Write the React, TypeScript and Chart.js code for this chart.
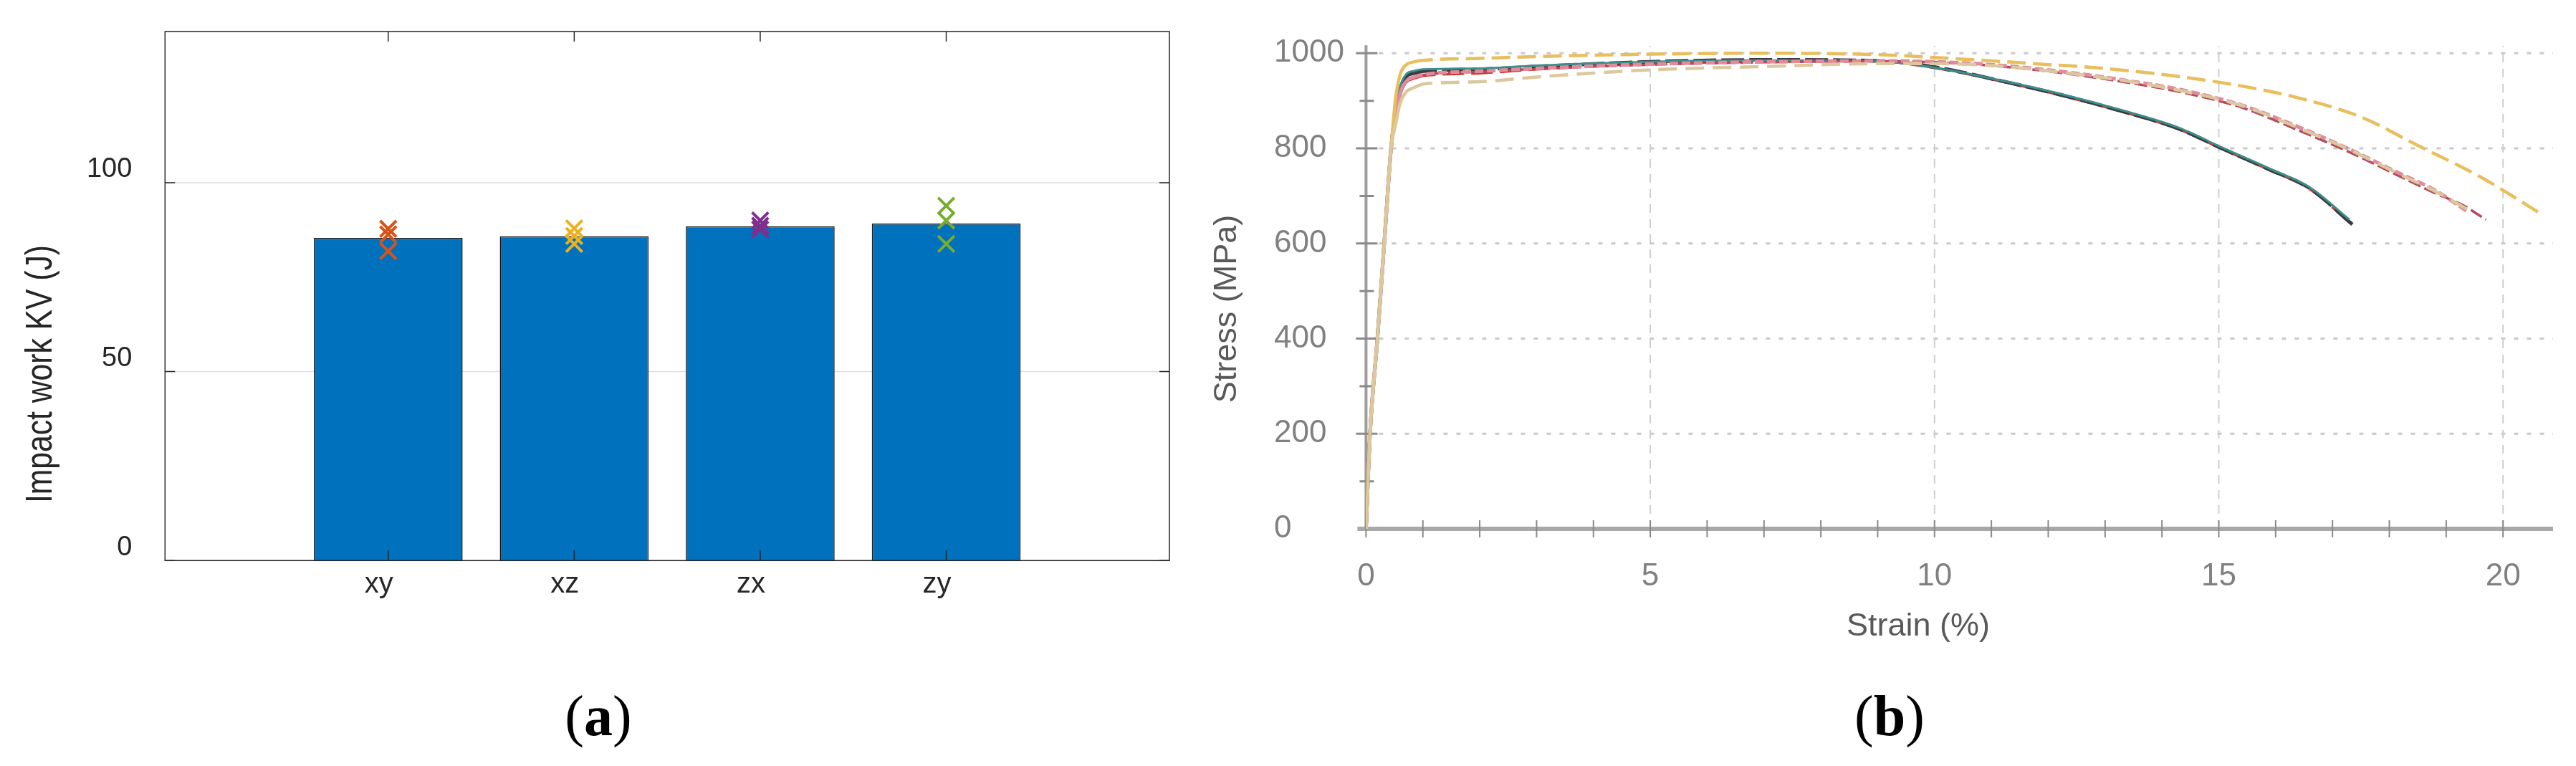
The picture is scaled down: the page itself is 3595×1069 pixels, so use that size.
import React, { useEffect, useRef } from 'react';
import { Chart, registerables } from 'chart.js';

Chart.register(...registerables);

// ---------- Panel (a): Charpy impact work ----------
const categories = ['xy', 'xz', 'zx', 'zy'];
const meanImpact = [85.4, 85.8, 88.4, 89.2];
const xySamples = [87.8, 86.3, 81.9];
const xzSamples = [87.9, 85.9, 83.8];
const zxSamples = [90.0, 88.6, 87.6];
const zySamples = [93.9, 90.0, 83.8];
const sampleColors = ['#D95319', '#EDB120', '#7E2F8E', '#77AC30'];
const impactTicks = [0, 50, 100];

// ---------- Panel (b): stress-strain curves ----------
const strainTicks = [0, 5, 10, 15, 20];
const stressTicks = [0, 200, 400, 600, 800, 1000];

const goldStrain = [0, 0.07, 0.2, 0.32, 0.44, 0.52, 0.6, 0.7, 0.85, 1, 2, 3, 5, 7, 9, 10, 11, 12, 12.8, 13.5, 14.3, 15.4, 16.4, 17.5, 18.5, 19.6, 20.7];
const goldStress = [0, 200, 400, 600, 800, 905, 955, 975, 982, 985, 989, 993, 998, 1000, 997, 991, 984, 976, 970, 962, 951, 931, 906, 866, 806, 740, 660];

const pinkStrain = [0, 0.07, 0.2, 0.32, 0.44, 0.52, 0.6, 0.7, 0.85, 1, 2, 3, 5, 7, 9, 10, 11, 12.2, 13.3, 14.3, 15.4, 16.4, 17.3, 18.1, 18.8, 19.4];
const pinkStress = [0, 200, 400, 600, 800, 870, 915, 940, 950, 955, 962, 968, 977, 982, 984, 982, 976, 962, 944, 924, 891, 845, 798, 752, 712, 665];

const crimsonStrain = [0, 0.07, 0.2, 0.32, 0.44, 0.52, 0.6, 0.7, 0.85, 1, 2, 3, 5, 7, 9, 10, 11, 12.2, 13.3, 14.3, 15.4, 16.4, 17.3, 18.1, 18.8, 19.3, 19.7];
const crimsonStress = [0, 200, 400, 600, 800, 868, 912, 938, 948, 954, 961, 967, 976, 981, 983, 981, 974, 959, 940, 919, 886, 838, 792, 746, 706, 680, 650];

const darkStrain = [0, 0.07, 0.2, 0.32, 0.44, 0.52, 0.6, 0.7, 0.85, 1, 2, 3, 5, 7, 9, 10, 11.2, 12.2, 13.3, 14.3, 15.05, 15.9, 16.6, 17.35];
const darkStress = [0, 200, 400, 600, 800, 880, 925, 950, 958, 962, 966, 972, 982, 986, 984, 971, 941, 913, 878, 841, 800, 755, 716, 640];

const tealStrain = [0, 0.07, 0.2, 0.32, 0.44, 0.52, 0.6, 0.7, 0.85, 1, 2, 3, 5, 7, 9, 10, 11.2, 12.2, 13.3, 14.3, 15.05, 15.9, 16.6, 17.3];
const tealStress = [0, 200, 400, 600, 800, 885, 930, 955, 963, 966, 968, 974, 982, 985, 983, 970, 942, 915, 880, 843, 802, 757, 718, 650];

const redStrain = [0, 0.07, 0.2, 0.32, 0.44, 0.52, 0.6, 0.7, 0.85, 1, 2, 3, 5, 7, 9, 10, 11.2, 12.2, 13.3, 14.3, 15.05, 15.9, 16.6, 17.3];
const redStress = [0, 200, 400, 600, 800, 870, 915, 938, 947, 952, 958, 966, 978, 982, 983, 969, 940, 912, 877, 840, 799, 754, 714, 645];

const tanStrain = [0, 0.07, 0.2, 0.32, 0.44, 0.52, 0.6, 0.7, 0.85, 1, 2, 3, 5, 7, 9, 10, 11, 12.2, 13.3, 14.3, 15.4, 16.4, 17.3, 18.1, 18.8, 19.4];
const tanStress = [0, 200, 400, 600, 800, 850, 895, 918, 928, 935, 940, 950, 965, 972, 978, 978, 974, 960, 943, 922, 890, 843, 797, 750, 710, 670];

const SANS = "'Liberation Sans', Arial, sans-serif";

function pts(xs: number[], ys: number[]) {
  return xs.map((x, i) => ({ x, y: ys[i] }));
}

function curve(label: string, xs: number[], ys: number[], color: string, dash: number[], width: number) {
  return {
    label,
    data: pts(xs, ys),
    borderColor: color,
    backgroundColor: color,
    borderWidth: width,
    pointRadius: 0,
    fill: false,
    tension: 0,
    cubicInterpolationMode: 'monotone' as const,
    segment: {
      borderDash: (ctx: any) => (ctx.p0.parsed.x >= 0.85 ? dash : undefined),
    },
  };
}

export default function App() {
  const refA = useRef<HTMLCanvasElement>(null);
  const refB = useRef<HTMLCanvasElement>(null);

  useEffect(() => {
    const samples = [xySamples, xzSamples, zxSamples, zySamples];

    const axesA = {
      id: 'axesA',
      beforeDatasetsDraw(chart: any) {
        const { ctx, chartArea, scales } = chart;
        const { left, right } = chartArea;
        ctx.save();
        ctx.strokeStyle = '#dedede';
        ctx.lineWidth = 1.5;
        impactTicks.forEach((v) => {
          if (v === 0) return;
          const py = scales.y.getPixelForValue(v);
          ctx.beginPath();
          ctx.moveTo(left, py);
          ctx.lineTo(right, py);
          ctx.stroke();
        });
        ctx.restore();
      },
      afterDatasetsDraw(chart: any) {
        const { ctx, chartArea, scales } = chart;
        const { left, right, top, bottom } = chartArea;
        ctx.save();
        ctx.strokeStyle = '#262626';
        ctx.lineWidth = 1.5;
        ctx.strokeRect(left, top, right - left, bottom - top);
        const tl = 14;
        ctx.beginPath();
        impactTicks.forEach((v) => {
          const py = scales.y.getPixelForValue(v);
          ctx.moveTo(left, py);
          ctx.lineTo(left + tl, py);
          ctx.moveTo(right, py);
          ctx.lineTo(right - tl, py);
        });
        categories.forEach((_, i) => {
          const px = scales.x.getPixelForValue(i + 1);
          ctx.moveTo(px, bottom);
          ctx.lineTo(px, bottom - tl);
          ctx.moveTo(px, top);
          ctx.lineTo(px, top + tl);
        });
        ctx.stroke();
        ctx.restore();
      },
      afterDraw(chart: any) {
        const { ctx } = chart;
        ctx.save();
        ctx.fillStyle = '#262626';
        ctx.font = `52px ${SANS}`;
        ctx.translate(72, 522);
        ctx.rotate(-Math.PI / 2);
        ctx.scale(0.82, 1);
        ctx.textAlign = 'center';
        ctx.textBaseline = 'alphabetic';
        ctx.fillText('Impact work KV (J)', 0, 0);
        ctx.restore();
      },
    };

    const chartA = new Chart(refA.current as HTMLCanvasElement, {
      type: 'bar',
      data: {
        datasets: [
          ...samples.map((arr, i) => ({
            type: 'scatter' as const,
            label: categories[i],
            data: arr.map((v) => ({ x: i + 1, y: v })),
            pointStyle: 'crossRot',
            pointRadius: 16,
            pointBorderWidth: 4,
            borderWidth: 4,
            borderColor: sampleColors[i],
            backgroundColor: sampleColors[i],
            showLine: false,
            order: 1,
          })),
          {
            type: 'bar' as const,
            label: 'mean',
            data: meanImpact.map((v, i) => ({ x: i + 1, y: v })),
            backgroundColor: '#0072BD',
            borderColor: '#1a1a1a',
            borderWidth: 1.5,
            barPercentage: 0.8,
            categoryPercentage: 1,
            order: 2,
          },
        ] as any,
      },
      options: {
        responsive: false,
        animation: false,
        devicePixelRatio: 1,
        layout: { autoPadding: false, padding: { left: 0, top: 44, right: 68, bottom: 0 } },
        plugins: { legend: { display: false }, tooltip: { enabled: false } },
        scales: {
          x: {
            type: 'linear',
            min: -0.2,
            max: 5.2,
            offset: false,
            grid: { display: false, drawTicks: false },
            border: { display: false },
            afterBuildTicks: (axis: any) => {
              axis.ticks = categories.map((_, i) => ({ value: i + 1 }));
            },
            afterFit: (axis: any) => {
              axis.height = 117.7;
              axis.paddingLeft = 0;
              axis.paddingRight = 0;
            },
            ticks: {
              callback: (v: any) => categories[Number(v) - 1] ?? '',
              font: { family: SANS, size: 40 },
              color: '#262626',
              padding: 10,
              labelOffset: -13,
              maxRotation: 0,
              autoSkip: false,
            },
          },
          y: {
            type: 'linear',
            min: 0,
            max: 140,
            grid: { display: false, drawTicks: false },
            border: { display: false },
            afterBuildTicks: (axis: any) => {
              axis.ticks = impactTicks.map((v) => ({ value: v }));
            },
            afterFit: (axis: any) => {
              axis.width = 230.3;
              axis.paddingTop = 0;
              axis.paddingBottom = 0;
            },
            ticks: {
              font: { family: SANS, size: 38 },
              color: '#262626',
              padding: 46,
              labelOffset: -18,
            },
          },
        },
      } as any,
      plugins: [axesA],
    });

    const axesB = {
      id: 'axesB',
      beforeDatasetsDraw(chart: any) {
        const { ctx, chartArea, scales } = chart;
        const { left, right, top, bottom } = chartArea;
        const x = scales.x;
        const y = scales.y;
        ctx.save();
        ctx.strokeStyle = '#c9c9c9';
        ctx.lineWidth = 3;
        ctx.setLineDash([6, 12]);
        stressTicks.forEach((v) => {
          if (v === 0) return;
          const py = y.getPixelForValue(v);
          ctx.beginPath();
          ctx.moveTo(left + 18, py);
          ctx.lineTo(right, py);
          ctx.stroke();
        });
        ctx.strokeStyle = '#cfcfcf';
        ctx.lineWidth = 2;
        ctx.setLineDash([12, 9]);
        strainTicks.forEach((v) => {
          if (v === 0) return;
          const px = x.getPixelForValue(v);
          ctx.beginPath();
          ctx.moveTo(px, bottom);
          ctx.lineTo(px, top);
          ctx.stroke();
        });
        ctx.setLineDash([]);
        ctx.strokeStyle = '#a8a8a8';
        ctx.lineWidth = 6;
        ctx.beginPath();
        ctx.moveTo(left - 12, bottom);
        ctx.lineTo(right, bottom);
        ctx.stroke();
        ctx.strokeStyle = '#9c9c9c';
        ctx.lineWidth = 4;
        ctx.beginPath();
        ctx.moveTo(left, bottom);
        ctx.lineTo(left, top - 1);
        ctx.stroke();
        ctx.strokeStyle = '#8a8a8a';
        ctx.lineWidth = 2;
        ctx.beginPath();
        for (let s = 0; s <= 20; s++) {
          const px = x.getPixelForValue(s);
          ctx.moveTo(px, bottom - 12);
          ctx.lineTo(px, bottom + 12);
        }
        ctx.stroke();
        ctx.lineWidth = 3;
        ctx.beginPath();
        for (let v = 100; v <= 1000; v += 100) {
          const py = y.getPixelForValue(v);
          const major = v % 200 === 0;
          ctx.moveTo(left - (major ? 14 : 9), py);
          ctx.lineTo(left + (major ? 16 : 11), py);
        }
        ctx.stroke();
        ctx.restore();
      },
      afterDraw(chart: any) {
        const { ctx } = chart;
        ctx.save();
        ctx.fillStyle = '#595959';
        ctx.font = `45px ${SANS}`;
        ctx.textAlign = 'center';
        ctx.textBaseline = 'alphabetic';
        ctx.fillText('Strain (%)', 997, 887);
        ctx.translate(45, 431);
        ctx.rotate(-Math.PI / 2);
        ctx.fillText('Stress (MPa)', 0, 0);
        ctx.restore();
      },
    };

    const chartB = new Chart(refB.current as HTMLCanvasElement, {
      type: 'line',
      data: {
        datasets: [
          curve('tan', tanStrain, tanStress, '#DCC89E', [26, 12], 4.5),
          curve('gold', goldStrain, goldStress, '#E9BE5C', [26, 10], 4.5),
          curve('pink', pinkStrain, pinkStress, '#E08A9A', [12, 5], 5),
          curve('crimson', crimsonStrain, crimsonStress, '#B44A5E', [18, 6], 3.5),
          curve('teal', tealStrain, tealStress, '#3C8E8C', [], 3),
          curve('dark', darkStrain, darkStress, '#3a3a40', [32, 7], 5),
          curve('red', redStrain, redStress, '#C8362F', [30, 10], 3.5),
        ] as any,
      },
      options: {
        responsive: false,
        animation: false,
        devicePixelRatio: 1,
        layout: { autoPadding: false, padding: { left: 98, top: 64.3, right: 32, bottom: 0 } },
        plugins: { legend: { display: false }, tooltip: { enabled: false } },
        scales: {
          x: {
            type: 'linear',
            min: 0,
            max: 20.88,
            grid: { display: false, drawTicks: false },
            border: { display: false },
            afterBuildTicks: (axis: any) => {
              axis.ticks = strainTicks.map((v) => ({ value: v }));
            },
            afterFit: (axis: any) => {
              axis.height = 162;
              axis.paddingLeft = 0;
              axis.paddingRight = 0;
            },
            ticks: {
              callback: (v: any) => String(v),
              font: { family: SANS, size: 44 },
              color: '#808080',
              padding: 40,
              maxRotation: 0,
              autoSkip: false,
            },
          },
          y: {
            type: 'linear',
            min: 0,
            max: 1015,
            grid: { display: false, drawTicks: false },
            border: { display: false },
            afterBuildTicks: (axis: any) => {
              axis.ticks = stressTicks.map((v) => ({ value: v }));
            },
            afterFit: (axis: any) => {
              axis.width = 128.4;
              axis.paddingTop = 0;
              axis.paddingBottom = 0;
            },
            ticks: {
              callback: (v: any) => String(v),
              font: { family: SANS, size: 44 },
              color: '#808080',
              crossAlign: 'far',
              padding: 0,
            },
          },
        },
      } as any,
      plugins: [axesB],
    });

    return () => {
      chartA.destroy();
      chartB.destroy();
    };
  }, []);

  const labelStyle: React.CSSProperties = {
    position: 'absolute',
    top: 999,
    transform: 'translate(-50%, -50%)',
    fontFamily: "'Liberation Serif', 'Times New Roman', serif",
    fontSize: 80,
    lineHeight: 1,
    color: '#000',
    whiteSpace: 'nowrap',
  };

  return (
    <div
      style={{
        position: 'absolute',
        left: 0,
        top: 0,
        width: 3595,
        height: 1069,
        background: '#ffffff',
        overflow: 'hidden',
      }}
    >
      <canvas
        ref={refA}
        width={1700}
        height={900}
        style={{ position: 'absolute', left: 0, top: 0, width: 1700, height: 900 }}
      />
      <canvas
        ref={refB}
        width={1915}
        height={900}
        style={{ position: 'absolute', left: 1680, top: 0, width: 1915, height: 900 }}
      />
      <div style={{ ...labelStyle, left: 835 }}>
        (<b>a</b>)
      </div>
      <div style={{ ...labelStyle, left: 2637 }}>
        (<b>b</b>)
      </div>
    </div>
  );
}
